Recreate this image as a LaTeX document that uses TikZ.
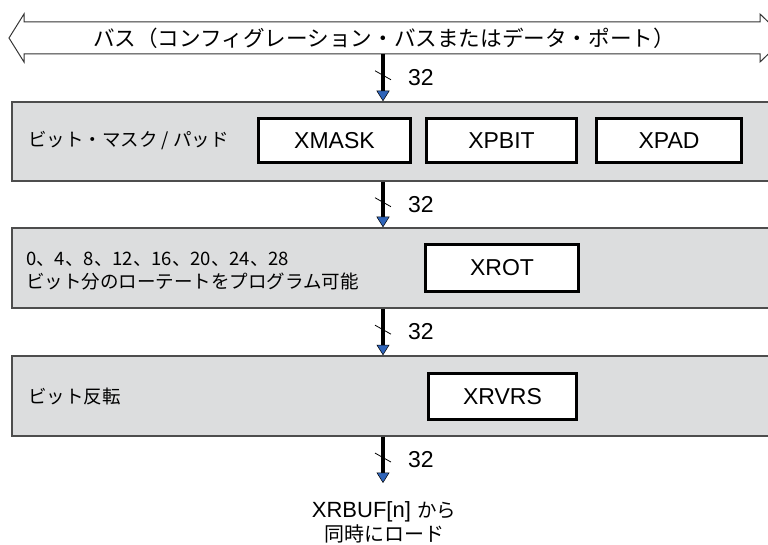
\documentclass[tikz,border=0pt]{standalone}
\usepackage{fontspec}
\setmainfont{Liberation Sans}
\newfontfamily\cjk{Noto Sans CJK JP}
\usetikzlibrary{arrows.meta,calc}
\definecolor{panelgray}{HTML}{DCDDDE}
\definecolor{paneledge}{HTML}{4D4D4D}
\definecolor{tipblue}{HTML}{2F64B9}
\tikzset{
  panel/.style={draw=paneledge, line width=1.5pt, fill=panelgray, rectangle, inner sep=0pt},
  regbox/.style={draw=black, line width=3pt, fill=white, rectangle, inner sep=0pt, font=\fontsize{23}{24}\selectfont},
  jlabel/.style={font=\cjk\fontsize{18.5}{22.5}\selectfont, anchor=west, inner sep=0pt, align=left},
  wide/.style={line width=4pt, -{Triangle[width=13pt,length=10.5pt,fill=tipblue,color=black,line width=0.5pt]}},
  numlbl/.style={font=\fontsize{23}{24}\selectfont, anchor=west, inner sep=0pt},
  slash/.style={line width=0.8pt, draw=black},
  busline/.style={line width=1pt, draw=black!80, fill=white}
}
\begin{document}
\begin{tikzpicture}[x=1pt,y=-1pt]
\useasboundingbox (0,0) rectangle (768,545);
\clip (0,0) rectangle (768,545);

% bus
\draw[busline] (9,38) -- (24,14) -- (24,22) -- (760,22) -- (760,14) -- (785,38)
  -- (760,62) -- (760,54) -- (24,54) -- (24,62) -- cycle;
\node[font=\cjk\fontsize{21.6}{24}\selectfont, inner sep=0pt] (bus) at (384,38)
  {バス（コンフィグレーション・バスまたはデータ・ポート）};
\coordinate (busb) at (383,54);

% panels
\node[panel, minimum width=768pt, minimum height=79pt] (box1) at (396,141.5) {};
\node[panel, minimum width=768pt, minimum height=80pt] (box2) at (396,268) {};
\node[panel, minimum width=768pt, minimum height=80pt] (box3) at (396,396) {};

% panel labels
\node[jlabel] (l1) at (28,141) {ビット・マスク / パッド};
\node[jlabel] (l2) at (26,271) {0、4、8、12、16、20、24、28\\ビット分のローテートをプログラム可能};
\node[jlabel] (l3) at (28,396) {ビット反転};

% registers
\node[regbox, minimum width=152pt, minimum height=44pt] (xmask) at (334.5,141) {XMASK};
\node[regbox, minimum width=150pt, minimum height=44pt] (xpbit) at (501.5,141) {XPBIT};
\node[regbox, minimum width=145pt, minimum height=44pt] (xpad) at (669,141) {XPAD};
\node[regbox, minimum width=153pt, minimum height=47pt] (xrot) at (502,268) {XROT};
\node[regbox, minimum width=148pt, minimum height=46pt] (xrvrs) at (502.5,396.5) {XRVRS};

% output
\coordinate (outp) at (383,483);
\node[font=\fontsize{22}{24}\selectfont, align=center, inner sep=0pt] (load) at (384,522)
  {XRBUF[n] {\cjk\fontsize{19.5}{24}\selectfont から}\\{\cjk\fontsize{20}{24}\selectfont 同時にロード}};

% connectors
\draw[wide] (busb) -- (box1.north -| busb);
\draw[wide] (box1.south -| busb) -- (box2.north -| busb);
\draw[wide] (box2.south -| busb) -- (box3.north -| busb);
\draw[wide] (box3.south -| busb) -- (outp);

% width marks
\draw[slash] ($(busb)!0.45!(box1.north -| busb)$) ++(-8,-4.5) -- ++(16,9);
\draw[slash] ($(box1.south -| busb)!0.45!(box2.north -| busb)$) ++(-8,-4.5) -- ++(16,9);
\draw[slash] ($(box2.south -| busb)!0.45!(box3.north -| busb)$) ++(-8,-4.5) -- ++(16,9);
\draw[slash] ($(box3.south -| busb)!0.45!(outp)$) ++(-8,-4.5) -- ++(16,9);

\node[numlbl] (n1) at ($(busb)!0.5!(box1.north -| busb)+(25,0)$) {32};
\node[numlbl] (n2) at ($(box1.south -| busb)!0.5!(box2.north -| busb)+(25,0)$) {32};
\node[numlbl] (n3) at ($(box2.south -| busb)!0.5!(box3.north -| busb)+(25,0)$) {32};
\node[numlbl] (n4) at ($(box3.south -| busb)!0.5!(outp)+(25,0)$) {32};
\end{tikzpicture}
\end{document}
